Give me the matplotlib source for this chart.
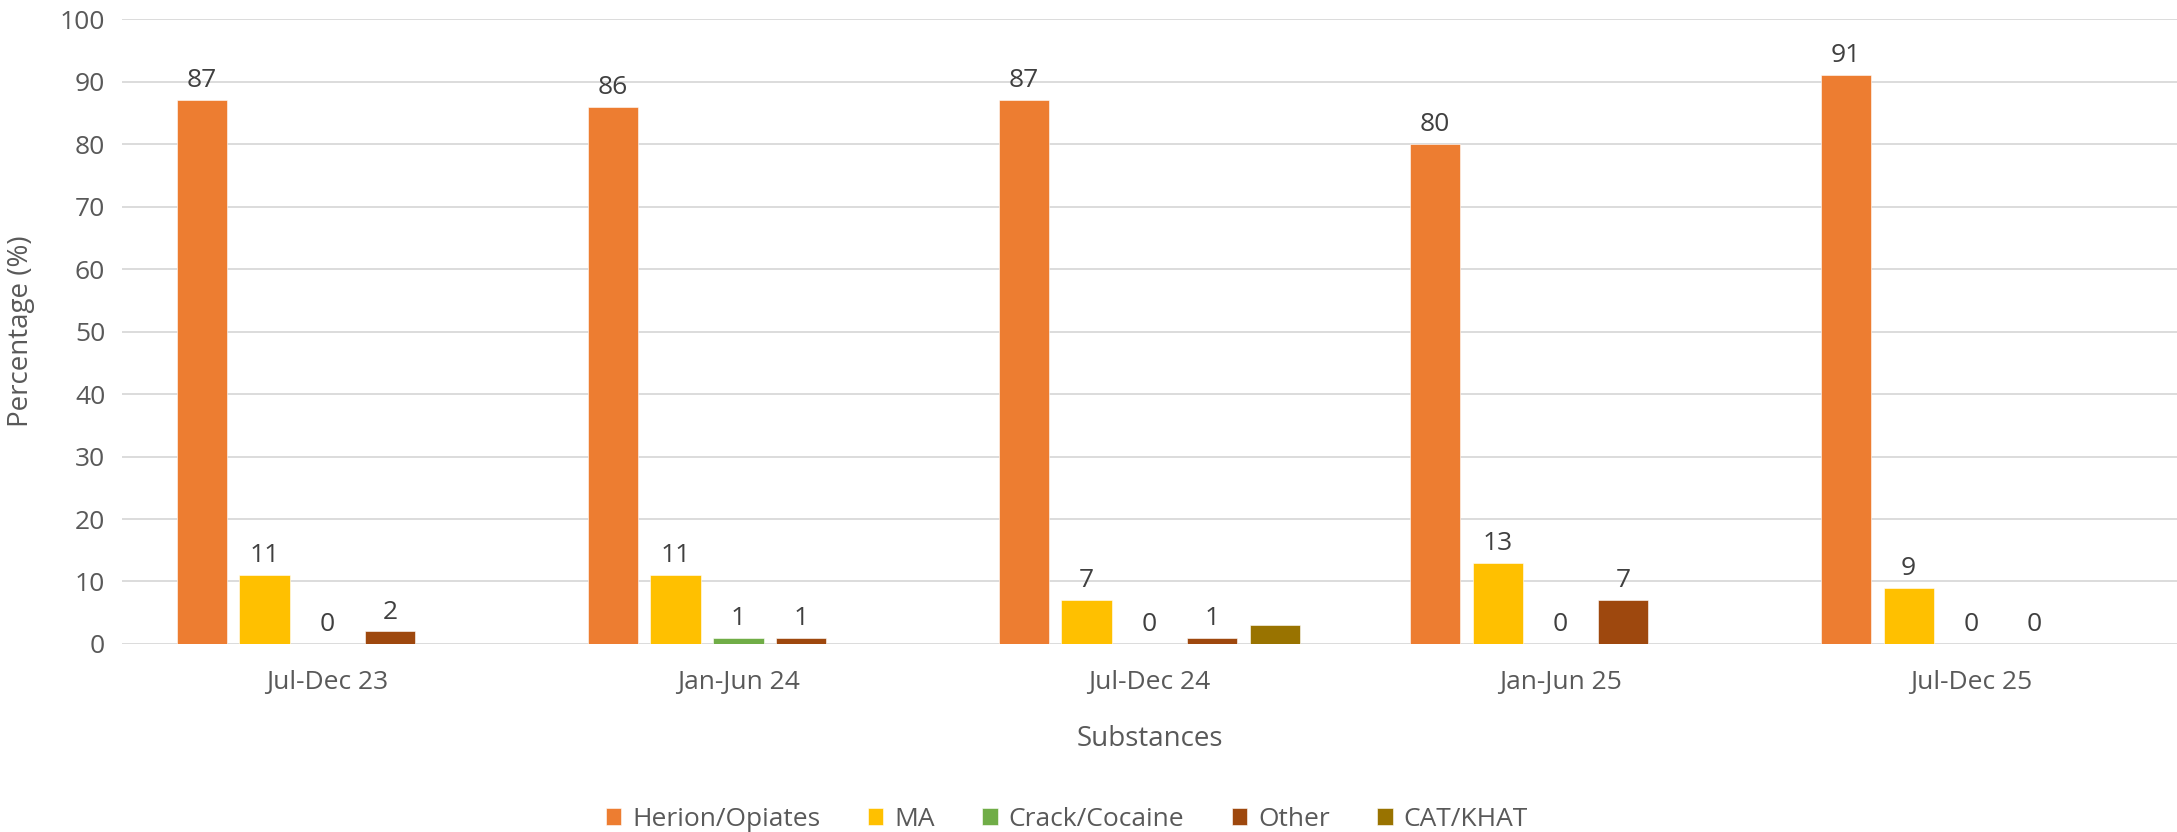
import numpy as np
import matplotlib.pyplot as plt

# Data
periods = ["Jul-Dec 23", "Jan-Jun 24", "Jul-Dec 24", "Jan-Jun 25", "Jul-Dec 25"]
heroin = [87, 86, 87, 80, 91]
ma = [11, 11, 7, 13, 9]
crack = [0, 1, 0, 0, 0]
other = [2, 1, 1, 7, 0]
cat_khat = [np.nan, np.nan, 3, np.nan, np.nan]

series_names = ["Herion/Opiates", "MA", "Crack/Cocaine", "Other", "CAT/KHAT"]
series_values = [heroin, ma, crack, other, cat_khat]
series_colors = ["#ED7D31", "#FFC000", "#70AD47", "#9E480E", "#997300"]
show_labels = [True, True, True, True, False]

plt.rcParams['font.family'] = ['Open Sans', 'DejaVu Sans']

fig = plt.figure(figsize=(21.77, 8.32), dpi=100)
ax = fig.add_axes([0.056, 0.226, 0.944, 0.751])

x = np.arange(len(periods))
width = 0.122
pitch = 0.153

for i, (name, vals, col, lab) in enumerate(zip(series_names, series_values, series_colors, show_labels)):
    offs = (i - 2) * pitch
    ax.bar(x + offs, vals, width, color=col, label=name, zorder=3,
           edgecolor='white', linewidth=0.4)
    if lab:
        for xi, v in zip(x, vals):
            if np.isnan(v):
                continue
            ax.annotate(f"{v:g}", (xi + offs, v), xytext=(0, 5), textcoords='offset points',
                        ha='center', va='bottom', fontsize=19, color='#404040')

ax.set_xlim(-0.5, len(periods) - 0.5)
ax.set_ylim(0, 100)
ax.set_yticks(range(0, 101, 10))
ax.set_xticks(x)
ax.set_xticklabels(periods)
ax.tick_params(axis='both', length=0, labelsize=19, labelcolor='#595959')
ax.tick_params(axis='x', pad=19)
ax.tick_params(axis='y', pad=12)
ax.yaxis.grid(True, color='#D9D9D9', linewidth=1.3, zorder=0)
for s in ax.spines.values():
    s.set_visible(False)

ax.set_xlabel("Substances", fontsize=20, color='#595959', labelpad=21)
ax.set_ylabel("Percentage (%)", fontsize=20, color='#595959', labelpad=18)

fig.legend(loc='lower center', bbox_to_anchor=(0.49, -0.028), ncol=5, frameon=False,
           fontsize=19, labelcolor='#595959', handlelength=0.6, handleheight=0.6,
           handletextpad=0.4, columnspacing=1.8)

plt.savefig('out.png', dpi=100)
